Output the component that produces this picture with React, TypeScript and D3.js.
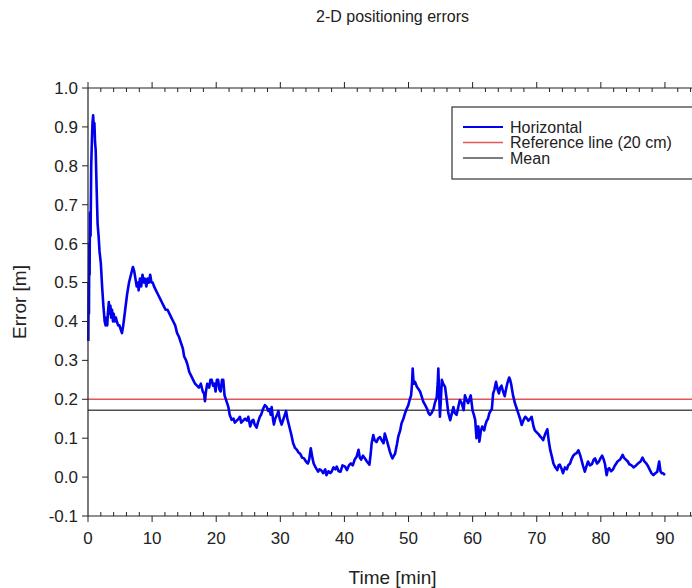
import React from 'react';
import * as d3 from 'd3';

// time [min], horizontal error [m]
const times = [
  0.05, 0.1, 0.15, 0.2, 0.25, 0.3, 0.4, 0.5, 0.6, 0.7, 0.8, 0.9, 1.0, 1.1, 1.2, 1.35, 1.5, 1.65, 1.8, 2.0,
  2.2, 2.4, 2.6, 2.75, 2.9, 3.0, 3.1, 3.25, 3.35, 3.5, 3.6, 3.75, 3.9, 4.0, 4.2, 4.35, 4.5, 4.7, 4.9, 5.1,
  5.3, 5.5, 5.8, 6.1, 6.4, 6.7, 7.0, 7.2, 7.4, 7.6, 7.8, 7.9, 8.1, 8.3, 8.5, 8.7, 8.9, 9.1, 9.3, 9.5,
  9.7, 9.9, 10.1, 10.3, 10.6, 10.9, 11.2, 11.5, 11.8, 12.1, 12.4, 12.7, 13.0, 13.3, 13.6, 13.9, 14.2, 14.5, 14.8, 15.0,
  15.3, 15.5, 15.8, 16.1, 16.4, 16.7, 17.0, 17.3, 17.6, 17.9, 18.1, 18.25, 18.4, 18.6, 18.9, 19.1, 19.3, 19.5, 19.7, 19.9,
  20.1, 20.3, 20.5, 20.7, 20.9, 21.1, 21.3, 21.5, 21.7, 21.9, 22.1, 22.4, 22.7, 22.9, 23.2, 23.5, 23.7, 23.9, 24.2, 24.5,
  24.8, 25.0, 25.3, 25.6, 25.8, 26.0, 26.3, 26.5, 26.8, 27.0, 27.3, 27.6, 27.9, 28.1, 28.3, 28.5, 28.65, 28.85, 29.0, 29.2,
  29.5, 29.7, 29.9, 30.2, 30.5, 30.7, 30.9, 31.1, 31.4, 31.7, 32.0, 32.3, 32.6, 32.8, 33.1, 33.4, 33.7, 34.0, 34.3, 34.5,
  34.75, 35.0, 35.2, 35.5, 35.9, 36.1, 36.4, 36.7, 37.0, 37.2, 37.5, 37.8, 38.0, 38.3, 38.6, 38.8, 39.1, 39.4, 39.7, 40.1,
  40.4, 40.7, 41.0, 41.3, 41.6, 41.9, 42.2, 42.4, 42.6, 42.9, 43.2, 43.5, 43.9, 44.1, 44.25, 44.5, 44.7, 45.0, 45.3, 45.55,
  45.8, 46.1, 46.3, 46.6, 46.85, 47.1, 47.3, 47.5, 47.7, 47.9, 48.2, 48.4, 48.7, 48.9, 49.2, 49.45, 49.7, 49.97, 50.2, 50.4,
  50.55, 50.65, 50.8, 51.0, 51.3, 51.6, 51.8, 52.0, 52.3, 52.6, 52.9, 53.1, 53.35, 53.6, 53.9, 54.1, 54.4, 54.55, 54.65, 54.8,
  54.9, 55.05, 55.2, 55.4, 55.7, 55.95, 56.2, 56.5, 56.7, 57.0, 57.2, 57.5, 57.7, 58.0, 58.3, 58.6, 58.8, 59.0, 59.3, 59.5,
  59.7, 60.0, 60.2, 60.4, 60.6, 60.75, 60.9, 61.05, 61.3, 61.5, 61.8, 62.0, 62.2, 62.4, 62.6, 62.8, 63.0, 63.2, 63.4, 63.65,
  63.9, 64.1, 64.3, 64.5, 64.75, 65.0, 65.2, 65.4, 65.7, 65.85, 66.0, 66.3, 66.6, 66.9, 67.1, 67.4, 67.65, 67.9, 68.2, 68.5,
  68.7, 69.0, 69.2, 69.5, 69.7, 70.0, 70.3, 70.5, 70.8, 71.0, 71.3, 71.65, 71.9, 72.1, 72.4, 72.6, 72.9, 73.2, 73.4, 73.6,
  73.9, 74.1, 74.4, 74.7, 74.9, 75.2, 75.4, 75.7, 76.0, 76.2, 76.5, 76.8, 77.0, 77.2, 77.5, 77.8, 78.0, 78.3, 78.6, 78.9,
  79.1, 79.4, 79.7, 80.0, 80.2, 80.45, 80.65, 80.9, 81.1, 81.3, 81.6, 81.9, 82.2, 82.6, 83.0, 83.4, 83.6, 83.9, 84.2, 84.45,
  84.8, 85.1, 85.5, 85.85, 86.2, 86.5, 86.8, 87.05, 87.3, 87.6, 87.9, 88.2, 88.5, 88.8, 89.1, 89.3, 89.5, 89.7, 90.0,
];

const errors = [
  0.35, 0.5, 0.42, 0.6, 0.52, 0.68, 0.62, 0.8, 0.86, 0.91, 0.93, 0.9, 0.91, 0.86, 0.84, 0.74, 0.65, 0.62, 0.58, 0.55,
  0.49, 0.44, 0.4, 0.39, 0.41, 0.39, 0.42, 0.45, 0.42, 0.44, 0.41, 0.43, 0.4, 0.42, 0.4, 0.41, 0.4, 0.39, 0.39, 0.38,
  0.37, 0.39, 0.43, 0.47, 0.5, 0.52, 0.54, 0.53, 0.51, 0.49, 0.5, 0.48, 0.51, 0.49, 0.52, 0.5, 0.51, 0.49, 0.51, 0.5,
  0.52, 0.5, 0.5, 0.49, 0.48, 0.47, 0.46, 0.45, 0.44, 0.43, 0.43, 0.42, 0.41, 0.4, 0.39, 0.37, 0.36, 0.345, 0.33, 0.31,
  0.3, 0.29, 0.27, 0.26, 0.25, 0.24, 0.235, 0.23, 0.24, 0.22, 0.215, 0.195, 0.22, 0.24, 0.23, 0.25, 0.25, 0.235, 0.24, 0.22,
  0.25, 0.25, 0.225, 0.22, 0.25, 0.25, 0.21, 0.2, 0.19, 0.18, 0.16, 0.147, 0.15, 0.14, 0.145, 0.15, 0.155, 0.14, 0.145, 0.15,
  0.145, 0.155, 0.13, 0.145, 0.147, 0.135, 0.127, 0.14, 0.155, 0.16, 0.175, 0.185, 0.18, 0.17, 0.175, 0.16, 0.18, 0.15, 0.135, 0.15,
  0.16, 0.17, 0.15, 0.135, 0.15, 0.16, 0.17, 0.15, 0.13, 0.11, 0.087, 0.075, 0.07, 0.064, 0.06, 0.05, 0.048, 0.04, 0.035, 0.045,
  0.074, 0.05, 0.035, 0.025, 0.014, 0.02, 0.017, 0.01, 0.02, 0.005, 0.015, 0.01, 0.014, 0.025, 0.02, 0.027, 0.015, 0.014, 0.03, 0.027,
  0.018, 0.03, 0.035, 0.03, 0.045, 0.052, 0.07, 0.05, 0.045, 0.055, 0.048, 0.04, 0.032, 0.06, 0.087, 0.108, 0.095, 0.09, 0.1, 0.103,
  0.095, 0.087, 0.112, 0.095, 0.08, 0.065, 0.055, 0.048, 0.055, 0.06, 0.085, 0.104, 0.12, 0.138, 0.15, 0.164, 0.175, 0.185, 0.2, 0.21,
  0.24, 0.279, 0.24, 0.245, 0.232, 0.225, 0.22, 0.21, 0.194, 0.185, 0.175, 0.165, 0.16, 0.165, 0.175, 0.19, 0.205, 0.24, 0.279, 0.2,
  0.155, 0.2, 0.25, 0.24, 0.232, 0.2, 0.165, 0.146, 0.16, 0.18, 0.165, 0.16, 0.175, 0.198, 0.19, 0.172, 0.21, 0.2, 0.19, 0.2,
  0.21, 0.17, 0.16, 0.147, 0.1, 0.13, 0.13, 0.091, 0.12, 0.13, 0.12, 0.135, 0.145, 0.15, 0.164, 0.17, 0.175, 0.215, 0.225, 0.245,
  0.225, 0.215, 0.23, 0.235, 0.22, 0.208, 0.225, 0.24, 0.256, 0.25, 0.24, 0.21, 0.19, 0.175, 0.165, 0.15, 0.134, 0.145, 0.155, 0.15,
  0.145, 0.15, 0.155, 0.13, 0.12, 0.115, 0.11, 0.105, 0.1, 0.095, 0.11, 0.123, 0.09, 0.07, 0.05, 0.035, 0.025, 0.018, 0.03, 0.032,
  0.02, 0.01, 0.025, 0.02, 0.03, 0.035, 0.045, 0.055, 0.06, 0.061, 0.069, 0.055, 0.043, 0.03, 0.014, 0.03, 0.04, 0.03, 0.033, 0.045,
  0.048, 0.035, 0.04, 0.05, 0.055, 0.045, 0.033, 0.005, 0.02, 0.023, 0.015, 0.02, 0.03, 0.04, 0.045, 0.057, 0.05, 0.045, 0.04, 0.033,
  0.03, 0.025, 0.03, 0.036, 0.04, 0.05, 0.04, 0.036, 0.03, 0.02, 0.01, 0.005, 0.01, 0.014, 0.04, 0.015, 0.01, 0.01, 0.005,
];

const referenceLevel = 0.2;
const meanLevel = 0.172;

const xTicks = [0, 10, 20, 30, 40, 50, 60, 70, 80, 90];
const xMinorTicks = d3.range(2, 95, 2).filter(t => t % 10 !== 0);
const yTicks = [-0.1, 0, 0.1, 0.2, 0.3, 0.4, 0.5, 0.6, 0.7, 0.8, 0.9, 1.0];

const legendItems = [
  { label: 'Horizontal', color: '#0000ee' },
  { label: 'Reference line (20 cm)', color: '#e0575a' },
  { label: 'Mean', color: '#505050' },
];

const W = 692;
const H = 588;
const font = '"Liberation Sans", Arial, sans-serif';

export default function App() {
  const x = d3.scaleLinear().domain([0, 95]).range([88, 697]);
  const y = d3.scaleLinear().domain([-0.1, 1.0]).range([516, 88]);

  const points = times.map((t, i) => [t, errors[i]] as [number, number]);
  const line = d3.line<[number, number]>()
    .x(d => x(d[0]))
    .y(d => y(d[1]));

  const x0 = x(0);
  const x1 = x(95);
  const yTop = y(1.0);
  const yBot = y(-0.1);

  return (
    <div style={{ position: 'absolute', left: 0, top: 0 }}>
      <svg width={W} height={H} style={{ fontFamily: font, display: 'block', background: '#fff' }}>
        <text x={(x0 + x1) / 2} y={22} textAnchor="middle" fontSize={16} fill="#222">
          2-D positioning errors
        </text>

        {/* reference + mean lines */}
        <line x1={x0} x2={x1} y1={y(referenceLevel)} y2={y(referenceLevel)} stroke="#e0575a" strokeWidth={1.5} />
        <line x1={x0} x2={x1} y1={y(meanLevel)} y2={y(meanLevel)} stroke="#505050" strokeWidth={1.5} />

        {/* trace */}
        <path d={line(points) || ''} fill="none" stroke="#0000ee" strokeWidth={2.6} strokeLinejoin="round" />

        {/* frame */}
        <line x1={x0} x2={x1} y1={yTop} y2={yTop} stroke="#222" strokeWidth={1.2} />
        <line x1={x0} x2={x1} y1={yBot} y2={yBot} stroke="#222" strokeWidth={1.2} />
        <line x1={x0} x2={x0} y1={yTop} y2={yBot} stroke="#222" strokeWidth={1.2} />

        {/* x ticks */}
        {xMinorTicks.map(t => (
          <g key={`xm-${t}`}>
            <line x1={x(t)} x2={x(t)} y1={yBot} y2={yBot - 4} stroke="#222" />
            <line x1={x(t)} x2={x(t)} y1={yTop} y2={yTop + 4} stroke="#222" />
          </g>
        ))}
        {xTicks.map(t => (
          <g key={`x-${t}`}>
            <line x1={x(t)} x2={x(t)} y1={yBot} y2={yBot + 6} stroke="#222" />
            <line x1={x(t)} x2={x(t)} y1={yTop} y2={yTop - 6} stroke="#222" />
            <text x={x(t)} y={yBot + 28} textAnchor="middle" fontSize={17} fill="#222">
              {t}
            </text>
          </g>
        ))}

        {/* y ticks */}
        {yTicks.map(v => (
          <g key={`y-${v}`}>
            <line x1={x0 - 6} x2={x0} y1={y(v)} y2={y(v)} stroke="#222" />
            <text x={x0 - 10} y={y(v)} dy="0.35em" textAnchor="end" fontSize={17} fill="#222">
              {d3.format('.1f')(v).replace('−', '-')}
            </text>
          </g>
        ))}

        {/* axis titles */}
        <text x={(x0 + x1) / 2} y={584} textAnchor="middle" fontSize={19} fill="#222">
          Time [min]
        </text>
        <text transform={`translate(26, ${(yTop + yBot) / 2}) rotate(-90)`} textAnchor="middle" fontSize={19} fill="#222">
          Error [m]
        </text>

        {/* legend */}
        <rect x={452} y={107} width={260} height={72} fill="#fff" stroke="#333" strokeWidth={1.2} />
        {legendItems.map((item, i) => (
          <g key={item.label} transform={`translate(0, ${127 + i * 15.5})`}>
            <line x1={463} x2={503} y1={0} y2={0} stroke={item.color} strokeWidth={item.label === 'Horizontal' ? 2 : 1.5} />
            <text x={510} y={0} dy="0.35em" fontSize={16} fill="#222">
              {item.label}
            </text>
          </g>
        ))}
      </svg>
    </div>
  );
}
